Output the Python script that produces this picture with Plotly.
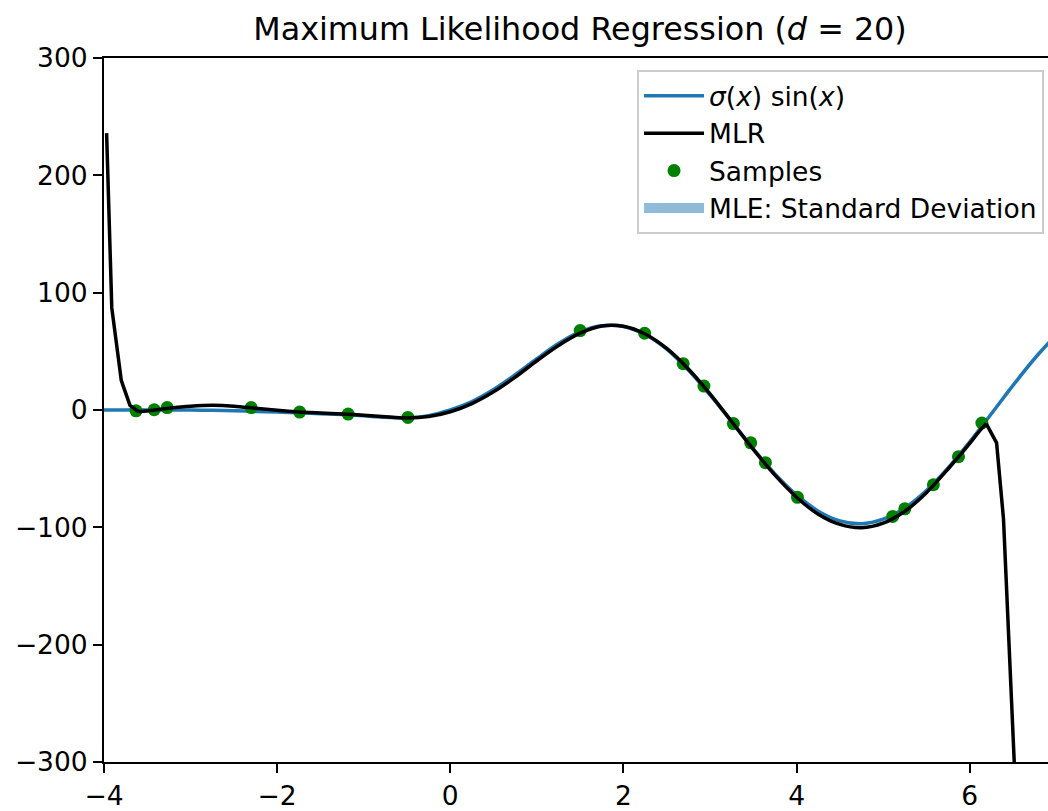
import plotly.graph_objects as go

# ---- data ----
x_true = [-4.0, -3.75, -3.5, -3.25, -3.0, -2.75, -2.5, -2.25, -2.0, -1.75, -1.5, -1.25,
          -1.0, -0.75, -0.5, -0.25, 0.0, 0.25, 0.5, 0.75, 1.0, 1.25, 1.5, 1.75, 2.0,
          2.25, 2.5, 2.75, 3.0, 3.25, 3.5, 3.75, 4.0, 4.25, 4.5, 4.75, 5.0, 5.25, 5.5,
          5.75, 6.0, 6.25, 6.5, 6.75, 7.0]
y_true = [0.1, 0.1, 0.1, 0.0, -0.1, -0.3, -0.7, -1.2, -1.8, -2.4, -3.1, -3.9,
          -5.0, -6.2, -6.7, -4.8, 0.0, 7.2, 17.4, 30.0, 43.7, 56.6, 66.7, 71.8, 71.2,
          64.4, 51.9, 34.1, 12.9, -10.0, -33.1, -54.4, -72.4, -86.2, -94.5, -96.9, -93.0,
          -83.5, -68.6, -49.4, -27.2, -3.2, 21.0, 43.9, 64.1]

# MLR: steep left tail, smooth middle, steep right tail
x_mlr_left = [-3.97, -3.91, -3.80, -3.70, -3.60]
y_mlr_left = [236.0, 87.0, 25.0, 4.0, -1.5]
x_mlr_mid = [-3.60, -3.5, -3.25, -3.0, -2.75, -2.5, -2.25, -2.0,
             -1.75, -1.5, -1.25, -1.0, -0.75, -0.5, -0.25, 0.0, 0.25, 0.5, 0.75, 1.0, 1.25,
             1.5, 1.75, 2.0, 2.25, 2.5, 2.75, 3.0, 3.25, 3.5, 3.75, 4.0, 4.25, 4.5, 4.75,
             5.0, 5.25, 5.5, 5.75, 6.0, 6.1, 6.19]
y_mlr_mid = [-1.5, -0.8, 1.5, 3.2, 4.0, 3.3, 1.5, -0.3,
             -1.7, -2.6, -3.4, -4.4, -5.8, -6.8, -5.6, -1.5, 5.5, 15.5, 28.0, 42.0, 55.0,
             65.5, 71.6, 71.4, 64.8, 52.5, 35.0, 13.8, -9.8, -33.5, -55.5, -74.3, -88.8, -97.5, -100.3,
             -96.5, -86.3, -70.5, -50.3, -28.5, -19.0, -11.6]
x_mlr_right = [6.19, 6.31, 6.39, 6.52]
y_mlr_right = [-11.6, -28.0, -93.0, -310.0]

x_samples = [-3.63, -3.42, -3.27, -2.30, -1.74, -1.18, -0.49, 1.50, 2.245, 2.69,
             2.93, 3.27, 3.47, 3.64, 4.01, 5.11, 5.25, 5.58, 5.87, 6.14]
y_samples = [-0.7, 0.2, 2.1, 2.1, -1.8, -3.5, -6.3, 67.7, 65.4, 39.5,
             20.4, -11.6, -28.0, -44.9, -74.4, -90.7, -84.2, -63.7, -39.8, -11.1]

# standard deviation band: not visible in the reference (legend entry only)
x_std = [None]
y_std = [None]

x_ticks = [-4, -2, 0, 2, 4, 6]
y_ticks = [-300, -200, -100, 0, 100, 200, 300]

FONT = "DejaVu Sans"
BLACK_LINE = dict(color="black", width=3.5)

fig = go.Figure()

fig.add_trace(go.Scatter(
    x=x_std, y=y_std, mode="lines",
    line=dict(color="rgba(31,119,180,0.5)", width=10),
    name="MLE: Standard Deviation", legendrank=4, hoverinfo="skip",
))

fig.add_trace(go.Scatter(
    x=x_true, y=y_true, mode="lines",
    line=dict(color="#1f77b4", width=3.5, shape="spline", smoothing=1),
    name="<i>σ</i>(<i>x</i>) sin(<i>x</i>)", legendrank=1,
))

fig.add_trace(go.Scatter(
    x=x_samples, y=y_samples, mode="markers",
    marker=dict(color="green", size=13),
    name="Samples", legendrank=3,
))

fig.add_trace(go.Scatter(
    x=x_mlr_mid, y=y_mlr_mid, mode="lines",
    line=dict(shape="spline", smoothing=0.8, **BLACK_LINE),
    name="MLR", legendrank=2, legendgroup="mlr",
))
fig.add_trace(go.Scatter(
    x=x_mlr_left, y=y_mlr_left, mode="lines", line=BLACK_LINE,
    name="MLR", legendgroup="mlr", showlegend=False,
))
fig.add_trace(go.Scatter(
    x=x_mlr_right, y=y_mlr_right, mode="lines", line=BLACK_LINE,
    name="MLR", legendgroup="mlr", showlegend=False,
))

axis_common = dict(
    showline=True, linecolor="black", linewidth=2,
    ticks="outside", ticklen=9, tickwidth=2, tickcolor="black",
    showgrid=False, zeroline=False,
    tickfont=dict(family=FONT, size=26.5, color="black"),
)

fig.update_layout(
    width=1048, height=811,
    margin=dict(l=104, r=0, t=58, b=42, pad=0),
    paper_bgcolor="white", plot_bgcolor="white",
    font=dict(family=FONT, color="black"),
    title=dict(
        text="Maximum Likelihood Regression (<i>d</i> = 20)",
        font=dict(family=FONT, size=31.8, color="black"),
        xref="container", x=580 / 1048, xanchor="center",
        yref="container", y=1 - 29 / 811, yanchor="middle",
    ),
    xaxis=dict(range=[-4, 6.904], tickvals=x_ticks, mirror=True, **axis_common),
    yaxis=dict(range=[-300, 300], tickvals=y_ticks, mirror=False, **axis_common),
    legend=dict(
        x=0.9958, y=0.983, xanchor="right", yanchor="top",
        bordercolor="#cccccc", borderwidth=2, bgcolor="rgba(255,255,255,0.8)",
        font=dict(family=FONT, size=26.5, color="black"),
        itemwidth=60, tracegroupgap=0,
    ),
    showlegend=True,
)

fig.write_html("out.html")
